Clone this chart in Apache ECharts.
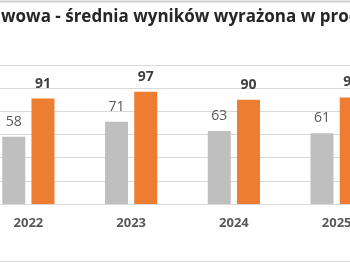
<!DOCTYPE html>
<html>
<head>
<meta charset="utf-8">
<script src="https://cdn.jsdelivr.net/npm/echarts@6/dist/echarts.min.js"></script>
<style>
  html, body { margin: 0; padding: 0; background: #fff; }
  #chart { width: 350px; height: 263px; }
</style>
</head>
<body>
<div id="chart"></div>
<script>
// dane z wykresu
const years = ['2022', '2023', '2024', '2025']
const greyValues = [58, 71, 63, 61]
const orangeValues = [91, 97, 90, 92]
const yTicks = [0, 20, 40, 60, 80, 100, 120]

const titleText = 'Matura podstawowa - średnia wyników wyrażona w procentach'
const titleFont = 'bold 17px "Open Sans"'

// przesunięcie tytułu, tak żeby "wowa" zaczynało się przy lewej krawędzi
let ctx = document.createElement('canvas').getContext('2d')
ctx.font = titleFont
let titleShift = ctx.measureText('Matura podsta').width - 1

let chart = echarts.init(document.getElementById('chart'))
chart.setOption({
  animation: false,
  title: {
    text: titleText,
    left: -titleShift,
    top: 9,
    padding: 0,
    textStyle: {
      fontFamily: 'Open Sans',
      fontSize: 17,
      fontWeight: 'bold',
      color: '#262626'
    }
  },
  grid: {
    left: -23,
    right: -38,
    top: 65,
    bottom: 59,
    outerBoundsMode: 'none',
    containLabel: false
  },
  xAxis: {
    type: 'category',
    data: years,
    axisLine: { lineStyle: { color: '#d9d9d9', width: 1 } },
    axisTick: { show: false },
    axisLabel: {
      margin: 13,
      fontFamily: 'Open Sans',
      fontSize: 13,
      fontWeight: 'bold',
      color: '#595959'
    }
  },
  yAxis: {
    type: 'value',
    min: yTicks[0],
    max: yTicks[yTicks.length - 1],
    interval: 20,
    axisLabel: { show: false },
    axisLine: { show: false },
    axisTick: { show: false },
    splitLine: { lineStyle: { color: '#d9d9d9', width: 1 } }
  },
  series: [
    {
      name: 'seria 1',
      type: 'bar',
      data: greyValues,
      barWidth: 23,
      barGap: '27%',
      itemStyle: { color: '#bfbfbf' },
      label: {
        show: true,
        position: 'top',
        distance: 8,
        fontFamily: 'Open Sans',
        fontSize: 14,
        color: '#595959'
      }
    },
    {
      name: 'seria 2',
      type: 'bar',
      data: orangeValues,
      barWidth: 23,
      itemStyle: { color: '#ed7d31' },
      label: {
        show: true,
        position: 'top',
        distance: 8,
        fontFamily: 'Open Sans',
        fontSize: 14,
        fontWeight: 'bold',
        color: '#404040'
      }
    }
  ],
  graphic: [
    {
      type: 'line',
      shape: { x1: 0, y1: 1.5, x2: 350, y2: 1.5 },
      style: { stroke: '#d0d0d0', lineWidth: 2 }
    },
    {
      type: 'line',
      shape: { x1: 0, y1: 261.5, x2: 350, y2: 261.5 },
      style: { stroke: '#d9d9d9', lineWidth: 1 }
    }
  ]
})
</script>
</body>
</html>
